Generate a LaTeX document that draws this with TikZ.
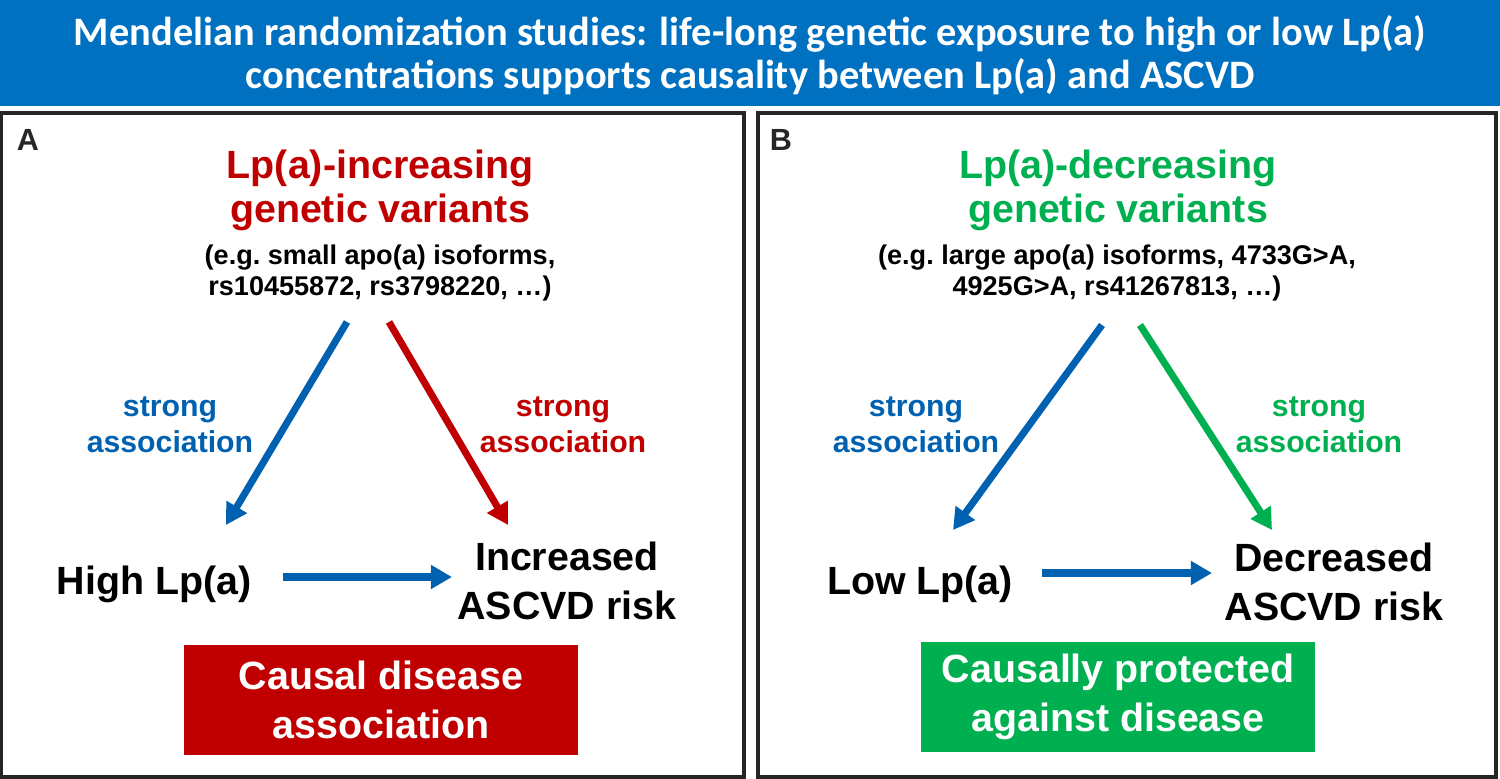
\documentclass[tikz,border=0pt]{standalone}
\usepackage{fontspec}
\setmainfont{Liberation Sans}
\newfontfamily\titlefont{Carlito}
\usetikzlibrary{arrows.meta,calc}

\definecolor{barblue}{RGB}{0,112,192}
\definecolor{lpblue}{RGB}{0,97,176}
\definecolor{lpred}{RGB}{192,0,0}
\definecolor{lpgreen}{RGB}{0,176,80}
\definecolor{framegray}{RGB}{38,38,38}

\begin{document}
\begin{tikzpicture}[x=0.01cm, y=-0.01cm,
    panel/.style={draw=framegray, line width=0.9pt},
    letter/.style={font=\fontsize{8.7}{10}\selectfont\bfseries, text=framegray, inner sep=0pt},
    headline/.style={font=\fontsize{11.2}{12.5}\selectfont\bfseries, align=center, inner sep=0pt},
    examples/.style={font=\fontsize{7.7}{8.8}\selectfont\bfseries, align=center, inner sep=0pt},
    assoc/.style={font=\fontsize{8.6}{10.2}\selectfont\bfseries, align=center, inner sep=0pt},
    outcome/.style={font=\fontsize{11.2}{13.7}\selectfont\bfseries, align=center, inner sep=0pt},
    verdict/.style={font=\fontsize{11.2}{13.9}\selectfont\bfseries, text=white, align=center,
                    minimum width=3.93cm, minimum height=1.1cm, inner sep=0pt},
    link/.style={line width=2pt, -{Triangle[length=6pt, width=6.5pt]}},
]
\useasboundingbox (0,0) rectangle (1500,779);

% Title bar
\fill[barblue] (0,0) rectangle (1500,106);
\node[text=white, inner sep=0pt, align=center,
      font=\titlefont\fontsize{11.5}{12.4}\selectfont\bfseries] (title) at (750,55)
      {Mendelian randomization studies: life-long genetic exposure to high or low Lp(a)\\
       concentrations supports causality between Lp(a) and ASCVD};

% Two panels
\draw[panel] (1,113) rectangle (744,777);
\draw[panel] (758,113) rectangle (1496,777);
\node[letter] (labA) at (28,140) {A};
\node[letter] (labB) at (781,140) {B};

% Panel A: increasing variants
\node[headline, text=lpred] (varA) at (380,190) {Lp(a)-increasing\\genetic variants};
\node[examples] (subA) at (380,273) {(e.g.\ small apo(a) isoforms,\\rs10455872, rs3798220, …)};
\node[assoc, text=lpblue] (assAL) at (170,425) {strong\\association};
\node[assoc, text=lpred] (assAR) at (563,425) {strong\\association};
\node[outcome] (high) at (154,584) {High Lp(a)};
\node[outcome] (incr) at (567,581) {Increased\\ASCVD risk};
\node[verdict, fill=lpred] (boxA) at (381,700) {Causal disease\\association};

\draw[link, lpblue] ($(subA)+(-33,49)$) -- ($(high)+(72,-59)$);
\draw[link, lpred] ($(subA)+(9,49)$) -- ($(incr)+(-59,-56)$);
\draw[link, lpblue] ($(high)+(129,-7)$) -- ($(incr)+(-115,-4)$);

% Panel B: decreasing variants
\node[headline, text=lpgreen] (varB) at (1118,190) {Lp(a)-decreasing\\genetic variants};
\node[examples] (subB) at (1117,273) {(e.g.\ large apo(a) isoforms, 4733G>A,\\4925G>A, rs41267813, …)};
\node[assoc, text=lpblue] (assBL) at (916,425) {strong\\association};
\node[assoc, text=lpgreen] (assBR) at (1319,425) {strong\\association};
\node[outcome] (low) at (920,584) {Low Lp(a)};
\node[outcome] (decr) at (1334,582) {Decreased\\ASCVD risk};
\node[verdict, fill=lpgreen] (boxB) at (1118,697) {Causally protected\\against disease};

\draw[link, lpblue] ($(subB)+(-15,52)$) -- ($(low)+(33,-54)$);
\draw[link, lpgreen] ($(subB)+(23,52)$) -- ($(decr)+(-62,-52)$);
\draw[link, lpblue] ($(low)+(122,-11)$) -- ($(decr)+(-122,-9)$);

\end{tikzpicture}
\end{document}
